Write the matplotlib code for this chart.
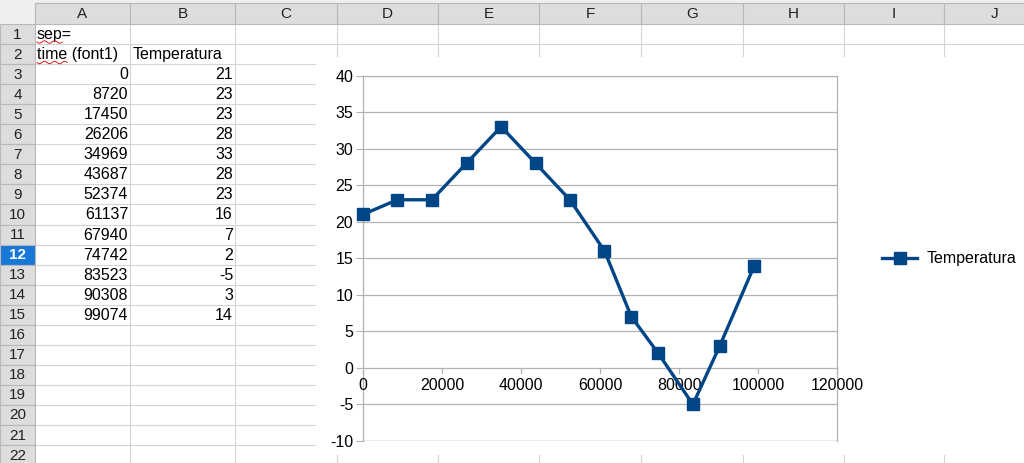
import numpy as np
import matplotlib
matplotlib.use("Agg")
import matplotlib.pyplot as plt
from matplotlib.patches import Rectangle

plt.rcParams['font.family'] = ['Liberation Sans', 'DejaVu Sans']
plt.rcParams['axes.unicode_minus'] = False

# ---- data ----
col_letters = ["A", "B", "C", "D", "E", "F", "G", "H", "I", "J"]
row_numbers = list(range(1, 23))
time_vals = [0, 8720, 17450, 26206, 34969, 43687, 52374, 61137, 67940, 74742, 83523, 90308, 99074]
temperatura = [21, 23, 23, 28, 33, 28, 23, 16, 7, 2, -5, 3, 14]
header_a1 = "sep="
header_a2 = "time (font1)"
header_b2 = "Temperatura"
series_name = "Temperatura"
y_ticks = [-10, -5, 0, 5, 10, 15, 20, 25, 30, 35, 40]
x_ticks = [0, 20000, 40000, 60000, 80000, 100000, 120000]

W, H = 1024, 463
fig = plt.figure(figsize=(W / 100, H / 100), dpi=100)
bg = fig.add_axes([0, 0, 1, 1])
bg.set_xlim(0, W)
bg.set_ylim(H, 0)
bg.axis("off")

FS = 11.5
HFS = 11.0
grid_c = "#d4d4d4"
hdr_bg = "#dddddd"
hdr_edge = "#b8b8b8"

# column layout (pixels)
col_edges = [35, 130, 235, 337, 438, 539, 641, 743, 844, 944, 1045]
row_top0 = 24.0
row_h = 20.05
hdr_top = 3

# top-left corner strip
bg.add_patch(Rectangle((0, 0), W, hdr_top, color="#efefef", lw=0))
bg.add_patch(Rectangle((0, 0), 35, row_top0, color="#efefef", lw=0))

# cell gridlines
for r in range(len(row_numbers) + 1):
    y = row_top0 + r * row_h
    bg.plot([35, W], [y, y], color=grid_c, lw=0.8, zorder=1)
for x in col_edges[1:]:
    bg.plot([x, x], [row_top0, H], color=grid_c, lw=0.8, zorder=1)

# column headers
for i, letter in enumerate(col_letters):
    x0, x1 = col_edges[i], col_edges[i + 1]
    bg.add_patch(Rectangle((x0, hdr_top), x1 - x0, row_top0 - hdr_top,
                           facecolor=hdr_bg, edgecolor=hdr_edge, lw=0.8, zorder=2))
    bg.text((x0 + x1) / 2, (hdr_top + row_top0) / 2 + 0.5, letter, ha="center",
            va="center", fontsize=HFS, color="#222222", zorder=3)

# row headers
for i, rn in enumerate(row_numbers):
    y0 = row_top0 + i * row_h
    sel = (rn == 12)
    bg.add_patch(Rectangle((0, y0), 35, row_h,
                           facecolor="#1878d8" if sel else hdr_bg,
                           edgecolor=hdr_edge, lw=0.8, zorder=2))
    bg.text(17.5, y0 + row_h / 2 + 0.5, str(rn), ha="center", va="center",
            fontsize=HFS, color="white" if sel else "#222222",
            fontweight="bold" if sel else "normal", zorder=3)

def row_center(r):
    return row_top0 + (r - 1) * row_h + row_h / 2 + 0.5

# cell contents
bg.text(37, row_center(1), header_a1, ha="left", va="center", fontsize=FS, color="black", zorder=3)
bg.text(37, row_center(2), header_a2, ha="left", va="center", fontsize=FS, color="black", zorder=3)
bg.text(133, row_center(2), header_b2, ha="left", va="center", fontsize=FS, color="black", zorder=3)
for i, (t, v) in enumerate(zip(time_vals, temperatura)):
    r = 3 + i
    bg.text(128, row_center(r), f"{t}", ha="right", va="center", fontsize=FS, zorder=3)
    bg.text(233, row_center(r), f"{v}", ha="right", va="center", fontsize=FS, zorder=3)

# spelling squiggles
def squiggle(x0, x1, y):
    xs = np.linspace(x0, x1, 80)
    bg.plot(xs, y + 1.2 * np.sin((xs - x0) / 1.6), color="#e02020", lw=0.7, zorder=4)

squiggle(37, 62, 42)
squiggle(37, 67, 62.5)

# chart object background
bg.add_patch(Rectangle((316, 57), W - 316, 455 - 57, facecolor="white", lw=0, zorder=5))

# chart axes
L, R, T, B = 363, 837, 75.5, 441
ax = fig.add_axes([L / W, 1 - B / H, (R - L) / W, (B - T) / H], zorder=10)
ax.set_facecolor("white")
line_c = "#004586"
ax.plot(time_vals, temperatura, color=line_c, lw=2.4, marker="s", markersize=9.2,
        label=series_name, zorder=5, clip_on=False)
ax.set_xlim(0, 120000)
ax.set_ylim(-10, 40)
ax.set_yticks(y_ticks)
ax.set_xticks(x_ticks)
ax.grid(axis="y", color="#b3b3b3", lw=0.9)
for s in ax.spines.values():
    s.set_color("#b3b3b3")
    s.set_linewidth(0.9)
ax.spines["bottom"].set_visible(False)
ax.axhline(-10, color="#b3b3b3", lw=0.9)
ax.tick_params(axis="y", length=5, color="#b3b3b3", labelsize=FS, pad=2, labelcolor="black")
ax.tick_params(axis="x", length=0, labelsize=FS, labelcolor="black")
# x axis ticks/labels drawn at the y=0 line
ax.set_xticklabels([])
for t in x_ticks:
    ax.plot([t, t], [0, -0.7], color="#b3b3b3", lw=0.9, clip_on=False, zorder=2)
    ax.text(t, -2.45, f"{t}", ha="center", va="center", fontsize=FS, color="black", zorder=3)

fig.legend(loc="center left", bbox_to_anchor=(882 / W, 1 - 259 / H), frameon=False,
           fontsize=FS, handlelength=2.2, handletextpad=0.6, borderpad=0, borderaxespad=0)

fig.savefig("out.png", dpi=100)
